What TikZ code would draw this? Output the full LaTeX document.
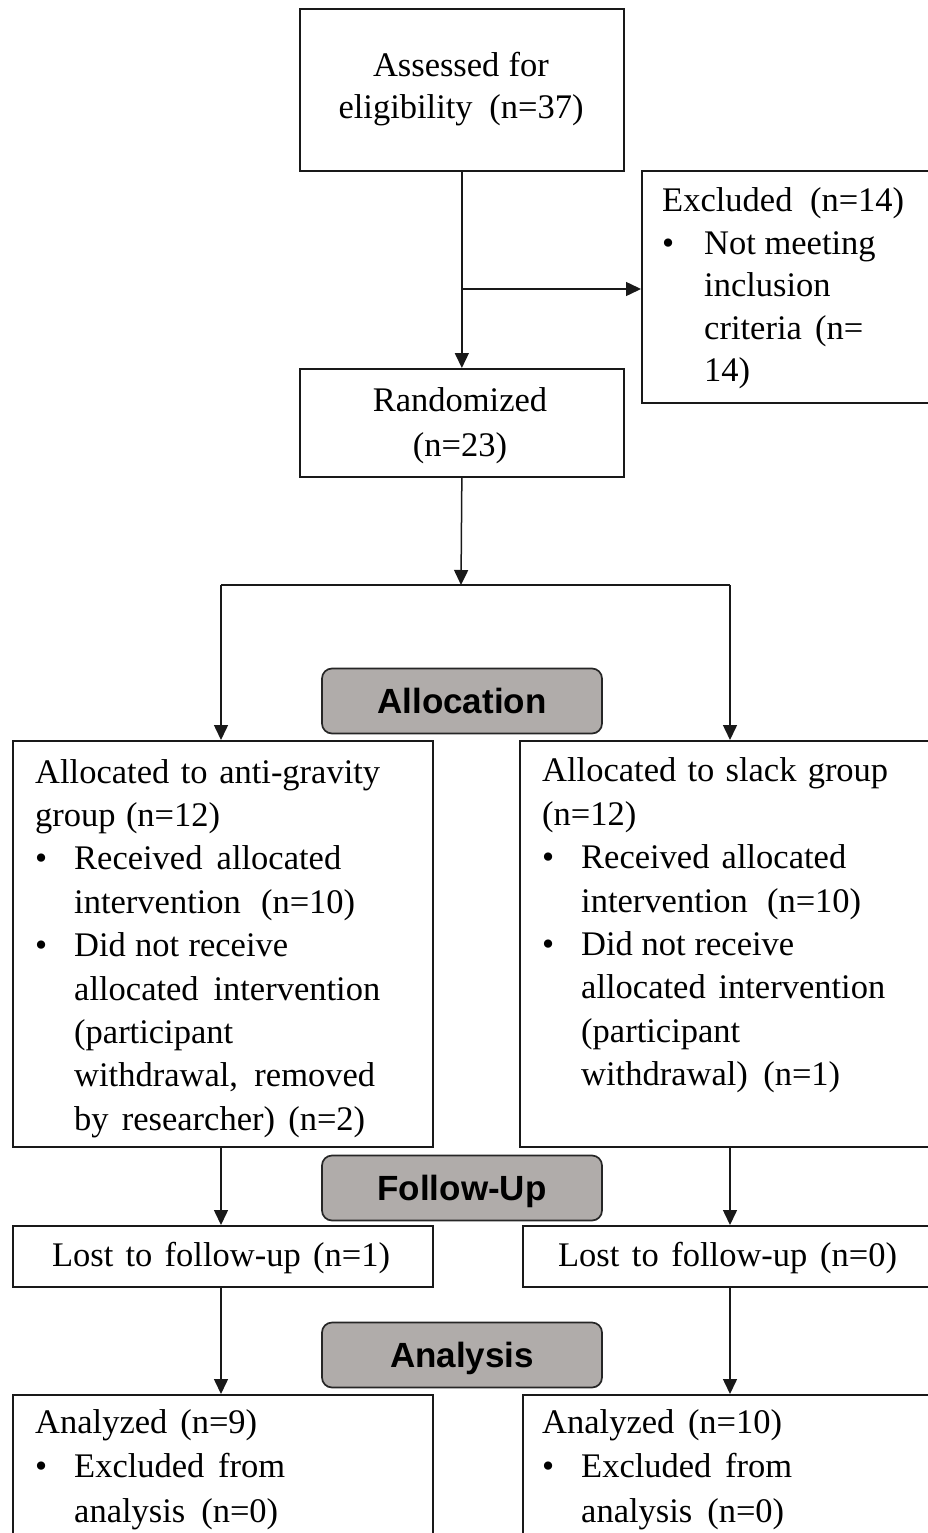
\documentclass[tikz,border=0pt]{standalone}
\usepackage{fontspec}
\setmainfont{Liberation Serif}
\newfontfamily\hdfont{Liberation Sans}
\usetikzlibrary{arrows.meta}
\definecolor{phasegray}{RGB}{176,172,170}
\newcommand{\jl}[2]{\makebox[#1pt][s]{#2}}
\newcommand{\bul}[1]{\makebox[#1pt][l]{\textbullet}}
\newcommand{\fsz}[1]{\fontsize{34.5pt}{#1pt}\selectfont}
\begin{document}
\begin{tikzpicture}[x=1pt,y=-1pt,
  box/.style={draw=black!90, line width=1.7pt, inner sep=0pt, anchor=north west},
  phase/.style={draw=black!85, line width=1.7pt, fill=phasegray, rounded corners=10pt,
    minimum width=280pt, minimum height=65pt, inner sep=0pt, text height=25pt, text depth=0pt,
    font=\hdfont\bfseries\fontsize{35pt}{40pt}\selectfont},
  txt/.style={inner sep=0pt, anchor=north west, align=left},
  ctxt/.style={inner sep=0pt, anchor=north, align=center},
  conn/.style={line width=1.5pt, draw=black!90},
  arr/.style={conn, -{Triangle[length=15pt,width=14pt]}}]
\useasboundingbox (0,0) rectangle (928,1533);
\clip (0,0) rectangle (928,1533);

% boxes
\node[box, minimum width=324pt, minimum height=162pt] (assess) at (299,8) {};
\node[box, minimum width=300pt, minimum height=232pt] (excl) at (641,170) {};
\node[box, minimum width=324pt, minimum height=108pt] (rand) at (299,368) {};
\node[box, minimum width=420pt, minimum height=406pt] (allocL) at (12,740) {};
\node[box, minimum width=422pt, minimum height=406pt] (allocR) at (519,740) {};
\node[box, minimum width=420pt, minimum height=61pt] (lostL) at (12,1225) {};
\node[box, minimum width=420pt, minimum height=61pt] (lostR) at (522,1225) {};
\node[box, minimum width=420pt, minimum height=200pt] (anaL) at (12,1394) {};
\node[box, minimum width=420pt, minimum height=200pt] (anaR) at (522,1394) {};

% phase labels
\node[phase] (ph1) at (462,701) {Allocation};
\node[phase] (ph2) at (462,1188) {Follow-Up};
\node[phase] (ph3) at (462,1355) {Analysis};

% texts
\node[ctxt, font=\fsz{42}] (assesst) at (461,46.6)
  {\jl{176}{Assessed for}\strut\\
   \jl{245}{eligibility (n=37)}\strut};
\node[txt, font=\fsz{42.5}] (exclt) at (662,182)
  {\jl{242}{Excluded (n=14)}\strut\\
   \bul{42}Not meeting\strut\\
   \hspace*{42pt}inclusion\strut\\
   \hspace*{42pt}\jl{159}{criteria (n=}\strut\\
   \hspace*{42pt}14)\strut};
\node[ctxt, font=\fsz{45}] (randt) at (460,380.2)
  {Randomized\strut\\
   (n=23)\strut};
\node[txt, font=\fsz{43.4}] (allocLt) at (35,752.6)
  {\jl{345}{Allocated to anti-gravity}\strut\\
   \jl{185}{group (n=12)}\strut\\
   \bul{39}\jl{267}{Received allocated}\strut\\
   \hspace*{39pt}\jl{281}{intervention (n=10)}\strut\\
   \bul{39}\jl{214}{Did not receive}\strut\\
   \hspace*{39pt}\jl{306}{allocated intervention}\strut\\
   \hspace*{39pt}(participant\strut\\
   \hspace*{39pt}\jl{301}{withdrawal, removed}\strut\\
   \hspace*{39pt}\jl{291}{by researcher) (n=2)}\strut};
\node[txt, font=\fsz{43.4}] (allocRt) at (542,751.3)
  {\jl{346}{Allocated to slack group}\strut\\
   (n=12)\strut\\
   \bul{39}\jl{265}{Received allocated}\strut\\
   \hspace*{39pt}\jl{280}{intervention (n=10)}\strut\\
   \bul{39}\jl{213}{Did not receive}\strut\\
   \hspace*{39pt}\jl{304}{allocated intervention}\strut\\
   \hspace*{39pt}(participant\strut\\
   \hspace*{39pt}\jl{259}{withdrawal) (n=1)}\strut};
\node[inner sep=0pt, anchor=base, font=\fsz{43.4}] (lostLt) at (221,1266.7)
  {\jl{338}{Lost to follow-up (n=1)}};
\node[inner sep=0pt, anchor=base, font=\fsz{43.4}] (lostRt) at (727.5,1266.7)
  {\jl{339}{Lost to follow-up (n=0)}};
\node[txt, font=\fsz{44.5}] (anaLt) at (35,1401.9)
  {\jl{222}{Analyzed (n=9)}\strut\\
   \bul{39}\jl{211}{Excluded from}\strut\\
   \hspace*{39pt}\jl{204}{analysis (n=0)}\strut};
\node[txt, font=\fsz{44.5}] (anaRt) at (542,1401.9)
  {\jl{240}{Analyzed (n=10)}\strut\\
   \bul{39}\jl{211}{Excluded from}\strut\\
   \hspace*{39pt}\jl{203}{analysis (n=0)}\strut};

% connectors
\coordinate (exjoin) at (461,289);
\coordinate (split) at (461,585);
\coordinate (bl) at (221,585);
\coordinate (br) at (730,585);
\draw[arr] (assess.south) -- (rand.north);
\draw[arr] (exjoin) -- (exjoin -| excl.west);
\draw[arr] (rand.south) -- (split);
\draw[conn] (bl) -- (br);
\draw[arr] (bl) -- (bl |- allocL.north);
\draw[arr] (br) -- (br |- allocR.north);
\draw[arr] (allocL.south -| bl) -- (lostL.north -| bl);
\draw[arr] (allocR.south -| br) -- (lostR.north -| br);
\draw[arr] (lostL.south -| bl) -- (anaL.north -| bl);
\draw[arr] (lostR.south -| br) -- (anaR.north -| br);
\end{tikzpicture}
\end{document}
